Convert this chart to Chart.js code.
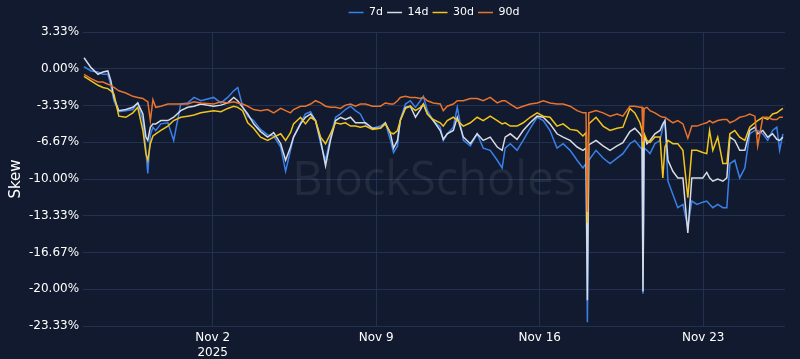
<!DOCTYPE html>
<html>
<head>
<meta charset="utf-8">
<script src="https://cdn.jsdelivr.net/npm/chart.js@4"></script>
<style>
  html, body { margin: 0; padding: 0; background: #111a2e; }
  #wrap { width: 800px; height: 359px; position: relative; }
</style>
</head>
<body>
<div id="wrap"><canvas id="skewChart"></canvas></div>
<script>
// time in days, Nov 2 00:00 = 2 (Oct 31 = 0)
const times = [
  -3.51,-3.21,-2.91,-2.70,-2.49,-2.36,-2.23,-2.02,-1.72,-1.42,
  -1.21,-0.99,-0.86,-0.78,-0.67,-0.56,-0.44,-0.22,0.08,0.33,
  0.63,0.93,1.20,1.49,2.04,2.35,2.64,2.90,3.07,3.28,
  3.50,3.75,4.05,4.35,4.61,4.91,5.12,5.33,5.46,5.76,
  5.97,6.19,6.40,6.62,6.83,7.04,7.26,7.47,7.68,7.90,
  8.11,8.32,8.54,8.84,9.18,9.39,9.61,9.74,9.91,10.03,
  10.25,10.46,10.68,10.89,11.02,11.19,11.44,11.74,11.87,12.04,
  12.30,12.47,12.73,13.03,13.32,13.58,13.88,14.18,14.39,14.52,
  14.74,15.03,15.29,15.59,15.89,16.15,16.44,16.74,17.00,17.30,
  17.60,17.85,17.98,18.04,18.10,18.41,18.71,19.01,19.31,19.56,
  19.86,20.07,20.29,20.38,20.42,20.47,20.59,20.72,20.93,21.15,
  21.27,21.36,21.49,21.70,21.91,22.13,22.34,22.51,22.73,22.98,
  23.15,23.27,23.41,23.62,23.84,24.01,24.14,24.35,24.56,24.78,
  24.99,25.21,25.33,25.55,25.76,25.97,26.15,26.27,26.41
];

const skew7d = [
  0.2,-0.2,-0.3,-0.5,-0.5,-1.5,-2.9,-3.9,-3.8,-3.7,
  -3.1,-4.7,-7.4,-9.5,-6.0,-5.3,-5.6,-5.0,-4.9,-6.5,
  -3.2,-3.1,-2.6,-2.9,-2.6,-3.1,-2.6,-2.0,-1.7,-3.4,
  -4.3,-4.7,-5.5,-6.0,-6.1,-7.1,-9.3,-7.4,-6.2,-4.9,
  -4.1,-3.9,-4.7,-6.8,-8.3,-6.2,-4.4,-4.1,-3.7,-3.4,
  -3.8,-4.1,-5.0,-5.4,-5.2,-4.9,-6.5,-7.6,-7.0,-4.6,
  -3.2,-2.9,-3.5,-2.9,-2.5,-3.8,-4.7,-5.3,-6.5,-5.9,
  -5.3,-3.5,-6.5,-7.0,-5.9,-7.2,-7.4,-8.3,-9.0,-7.2,
  -6.8,-7.4,-6.5,-5.4,-4.4,-4.7,-5.6,-7.2,-6.8,-7.4,
  -8.3,-9.0,-8.6,-23.0,-8.3,-7.4,-8.1,-8.6,-8.1,-7.7,
  -6.8,-6.5,-7.1,-7.3,-20.4,-7.2,-7.4,-7.7,-6.8,-6.5,
  -5.3,-4.7,-10.2,-11.4,-12.6,-12.3,-14.4,-12.0,-12.3,-12.1,
  -12.0,-12.3,-12.6,-12.3,-12.6,-12.6,-8.6,-8.3,-9.9,-9.0,
  -5.9,-5.6,-5.6,-5.9,-6.5,-5.6,-5.3,-7.4,-5.9
];

const skew14d = [
  1.0,0.1,-0.5,-0.3,-0.2,-1.1,-2.6,-3.8,-3.7,-3.5,
  -3.1,-4.1,-6.2,-6.5,-5.3,-5.0,-5.0,-4.7,-4.7,-4.4,
  -3.8,-3.5,-3.4,-3.2,-3.4,-3.3,-3.1,-2.6,-2.9,-3.5,
  -4.1,-5.0,-5.7,-6.2,-5.8,-6.8,-8.3,-7.1,-6.2,-5.0,
  -4.4,-4.1,-4.7,-6.5,-8.8,-6.5,-4.7,-4.4,-4.6,-4.4,
  -4.9,-4.9,-4.9,-5.4,-5.4,-4.9,-5.9,-7.2,-6.5,-4.7,
  -3.5,-3.4,-4.4,-3.7,-3.2,-4.1,-4.7,-5.6,-6.4,-5.9,
  -5.6,-4.4,-6.2,-6.8,-5.9,-6.5,-6.2,-7.1,-7.4,-6.2,
  -5.9,-6.4,-5.6,-4.9,-4.3,-4.4,-5.0,-5.9,-6.2,-6.5,
  -7.1,-7.4,-7.2,-21.0,-6.9,-6.5,-7.0,-7.4,-7.0,-6.7,
  -5.7,-5.4,-5.9,-6.2,-20.2,-6.0,-6.8,-6.5,-5.9,-5.6,
  -5.0,-4.7,-8.3,-9.3,-9.9,-9.9,-14.9,-9.9,-9.9,-9.9,
  -9.4,-9.9,-10.2,-10.0,-10.2,-9.9,-6.2,-6.5,-7.4,-7.4,
  -5.6,-5.3,-5.9,-5.6,-6.2,-5.9,-6.4,-6.5,-6.2
];

const skew30d = [
  -0.7,-1.1,-1.5,-1.7,-1.8,-2.0,-2.3,-4.3,-4.4,-4.0,
  -3.5,-5.6,-7.7,-8.3,-6.8,-6.1,-5.9,-5.6,-5.2,-4.7,
  -4.4,-4.3,-4.2,-4.0,-3.8,-3.9,-3.6,-3.4,-3.5,-3.8,
  -4.9,-5.4,-6.2,-6.5,-6.2,-5.9,-6.5,-5.8,-5.0,-4.4,
  -5.0,-4.4,-4.7,-6.2,-6.8,-5.9,-4.9,-5.0,-4.9,-5.2,
  -5.2,-5.3,-5.2,-5.5,-5.4,-5.0,-5.8,-5.9,-5.6,-4.7,
  -3.6,-3.4,-3.8,-3.5,-3.2,-4.1,-4.6,-4.9,-5.2,-4.7,
  -4.4,-4.7,-5.2,-4.9,-4.4,-4.7,-4.3,-4.7,-5.0,-4.9,
  -5.2,-5.2,-4.9,-4.4,-4.0,-4.3,-4.4,-5.2,-5.0,-5.5,
  -5.6,-6.1,-5.8,-14.0,-5.0,-4.4,-5.2,-5.6,-5.4,-5.3,
  -3.6,-4.0,-4.9,-5.6,-7.2,-5.9,-6.5,-6.7,-6.2,-6.2,
  -9.9,-7.1,-6.5,-6.8,-6.8,-7.4,-11.7,-7.4,-7.4,-7.6,
  -7.7,-5.6,-7.4,-6.2,-8.6,-8.6,-5.9,-5.6,-6.2,-6.5,
  -5.3,-4.9,-4.7,-4.4,-4.6,-4.1,-4.0,-3.8,-3.6
];

const skew90d = [
  -0.5,-0.9,-1.2,-1.2,-1.4,-1.5,-1.7,-2.0,-2.2,-2.5,
  -2.6,-2.7,-2.9,-3.0,-4.7,-2.8,-3.5,-3.4,-3.2,-3.2,
  -3.2,-3.2,-3.0,-3.1,-3.2,-3.0,-3.1,-3.0,-3.1,-3.2,
  -3.4,-3.7,-3.8,-3.7,-4.0,-3.6,-3.8,-4.0,-3.7,-3.4,
  -3.4,-3.2,-2.9,-3.1,-3.4,-3.5,-3.5,-3.6,-3.3,-3.2,
  -3.4,-3.2,-3.2,-3.4,-3.4,-3.1,-3.2,-3.2,-2.9,-2.6,
  -2.5,-2.6,-2.6,-2.7,-2.6,-2.9,-3.1,-3.2,-3.8,-3.4,
  -3.2,-2.9,-2.9,-2.7,-2.7,-2.9,-2.6,-3.1,-2.9,-2.9,
  -3.2,-3.6,-3.4,-3.2,-3.1,-2.9,-3.1,-3.2,-3.2,-3.4,
  -3.8,-4.0,-4.0,-13.0,-4.0,-3.8,-4.0,-4.3,-4.1,-4.3,
  -3.4,-3.4,-3.5,-3.5,-6.6,-3.6,-3.5,-3.8,-4.0,-4.3,
  -4.4,-4.4,-4.6,-4.9,-4.7,-5.0,-6.3,-5.2,-5.2,-5.0,
  -4.9,-4.7,-4.9,-4.7,-4.6,-4.6,-4.9,-4.7,-4.4,-4.3,
  -4.1,-4.3,-7.0,-4.4,-4.4,-4.6,-4.6,-4.4,-4.4
];

const seriesNames = ['7d', '14d', '30d', '90d'];
const seriesColors = ['#3a80ea', '#d6dbe4', '#f3c41c', '#e8732c'];

const xTickDays = [2, 9, 16, 23];
const xTickLabels = [['Nov 2', '2025'], 'Nov 9', 'Nov 16', 'Nov 23'];
const yTickValues = [10, 0, -10, -20, -30, -40, -50, -60, -70].map(v => v / 3);

const gridColor = '#233150';
const textColor = '#ffffff';

function toPoints(values) {
    return values.map((v, i) => ({ x: times[i], y: v }));
}

// faint watermark behind the lines
const watermark = {
    id: 'watermark',
    beforeDatasetsDraw(chart) {
        const { ctx, chartArea } = chart;
        ctx.save();
        ctx.font = '500 47px "Open Sans", sans-serif';
        ctx.fillStyle = 'rgba(255, 255, 255, 0.075)';
        ctx.textAlign = 'center';
        ctx.textBaseline = 'middle';
        ctx.fillText('BlockScholes', (chartArea.left + chartArea.right) / 2, (chartArea.top + chartArea.bottom) / 2 + 3);
        ctx.restore();
    }
};

// legend sits a little lower, plot starts a little below it
const legendGap = {
    id: 'legendGap',
    beforeInit(chart) {
        const legend = chart.legend;
        const fit = legend.fit;
        legend.fit = function () {
            fit.call(this);
            this.height += 7;
        };
        const draw = legend.draw;
        legend.draw = function () {
            chart.ctx.save();
            chart.ctx.translate(0, 3);
            draw.call(this);
            chart.ctx.restore();
        };
    }
};

const allSeries = [skew7d, skew14d, skew30d, skew90d];

new Chart(document.getElementById('skewChart'), {
    type: 'line',
    data: {
        datasets: allSeries.map((vals, i) => ({
            label: seriesNames[i],
            data: toPoints(vals),
            borderColor: seriesColors[i],
            backgroundColor: seriesColors[i],
            borderWidth: 1.5,
            pointRadius: 0,
            tension: 0,
            order: 4 - i
        }))
    },
    options: {
        responsive: true,
        maintainAspectRatio: false,
        animation: false,
        layout: { padding: { left: 0, right: 15, top: 0, bottom: -5 } },
        plugins: {
            legend: {
                position: 'top',
                fullSize: false,
                labels: {
                    color: textColor,
                    font: { family: 'DejaVu Sans', size: 11 },
                    usePointStyle: true,
                    pointStyle: 'line',
                    pointStyleWidth: 15,
                    boxHeight: 10,
                    padding: 4,
                    sort: (a, b) => a.datasetIndex - b.datasetIndex
                }
            },
            tooltip: { enabled: false }
        },
        scales: {
            x: {
                type: 'linear',
                min: -3.55,
                max: 26.5,
                afterBuildTicks: (axis) => {
                    axis.ticks = xTickDays.map(v => ({ value: v }));
                },
                ticks: {
                    color: textColor,
                    font: { family: 'DejaVu Sans', size: 12, lineHeight: 1.25 },
                    maxRotation: 0,
                    padding: 4,
                    callback: (value) => {
                        const idx = xTickDays.indexOf(value);
                        return idx >= 0 ? xTickLabels[idx] : '';
                    }
                },
                grid: { color: gridColor, drawTicks: false },
                border: { display: false }
            },
            y: {
                min: -70 / 3,
                max: 10 / 3,
                afterBuildTicks: (axis) => {
                    axis.ticks = yTickValues.map(v => ({ value: v }));
                },
                ticks: {
                    color: textColor,
                    font: { family: 'DejaVu Sans', size: 12 },
                    padding: 4,
                    callback: (value) => value.toFixed(2) + '%'
                },
                grid: { color: gridColor, drawTicks: false },
                border: { display: false },
                title: {
                    display: true,
                    text: 'Skew',
                    color: textColor,
                    font: { family: 'DejaVu Sans', size: 15 },
                    padding: { top: 7, bottom: 0 }
                }
            }
        }
    },
    plugins: [watermark, legendGap]
});
</script>
</body>
</html>
